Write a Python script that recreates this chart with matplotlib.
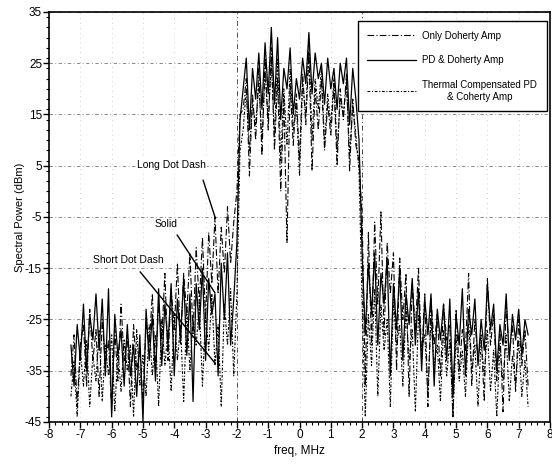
import numpy as np
import matplotlib
matplotlib.use("Agg")
import matplotlib.pyplot as plt
from matplotlib.ticker import MultipleLocator

plt.rcParams['font.family'] = ['Liberation Sans', 'DejaVu Sans']
plt.rcParams['axes.unicode_minus'] = False

# frequency grid, MHz (-7.3 ... 7.3, step 0.1)
freq = np.round(np.arange(-7.3, 7.31, 0.1), 1)

# PD & Doherty Amp (solid)
pd_left = [-30, -38, -26, -33, -22, -35, -24, -29, -20, -31, -21, -36, -19, -44, -24, -32,
           -27, -38, -26, -36, -30, -40, -28, -45, -23, -33, -24, -37, -19, -34, -22, -30,
           -18, -36, -21, -29, -17, -32, -20, -41, -18, -27, -15, -33, -17, -24, -20, -36,
           -14, -25, -12, -30, -21]
pd_band = [-10, 14,
           20, 26, 12, 24, 18, 27, 16, 29, 19, 32, 17, 30, 14, 24, 20, 28, 15, 22, 18,
           26, 21, 31, 19, 27, 22, 25, 17, 26, 20, 24, 16, 25, 21, 26, 13, 24, 18,
           10, -12]
pd_right = [-28, -14, -24, -12, -30, -16, -22, -13, -36, -18, -27, -15, -33, -20, -26, -17,
            -30, -19, -35, -21, -28, -20, -38, -23, -29, -22, -33, -21, -40, -24, -30, -19,
            -36, -23, -28, -21, -34, -25, -31, -18, -27, -22, -35, -26, -30, -20, -33, -24,
            -29, -23, -32, -25, -28]

# Only Doherty Amp (long dot dash)
doh_left = [-36, -28, -42, -30, -26, -38, -23, -33, -27, -40, -25, -34, -29, -43, -27, -37,
            -22, -33, -28, -42, -26, -35, -31, -41, -26, -30, -20, -35, -22, -29, -16, -33,
            -19, -27, -14, -30, -16, -24, -12, -28, -11, -22, -9, -25, -8, -18, -5, -20,
            -7, -16, -3, -14, -6]
doh_band = [0, 15,
            16, 22, 3, 19, 10, 24, 7, 26, 12, 28, 8, 22, 0, 18, -10, 21, 9, 19, 6,
            23, 13, 27, 4, 20, 12, 22, 8, 17, 11, 21, 5, 20, 14, 23, 4, 18, 9,
            6, -5]
doh_right = [-38, -8, -30, -6, -22, -4, -28, -10, -20, -12, -35, -13, -25, -16, -40, -18,
             -27, -15, -33, -20, -42, -21, -30, -24, -36, -22, -29, -26, -44, -23, -35, -27,
             -31, -16, -38, -25, -33, -28, -41, -17, -30, -24, -37, -27, -43, -22, -32, -26,
             -39, -25, -34, -27, -38]

# Thermal Compensated PD & Doherty Amp (short dot dash)
thm_left = [-40, -33, -44, -31, -38, -29, -42, -32, -37, -27, -41, -30, -36, -28, -43, -31,
            -39, -29, -35, -30, -44, -27, -38, -32, -40, -26, -36, -28, -42, -25, -34, -27,
            -39, -24, -33, -26, -41, -23, -35, -25, -30, -22, -38, -24, -31, -20, -34, -26,
            -42, -22, -30, -19, -36]
thm_band = [-20, 8,
            12, 20, 8, 17, 13, 21, 10, 23, 14, 25, 11, 26, 6, 20, 9, 24, 12, 17, 3,
            21, 15, 29, 10, 22, 16, 24, 9, 19, 13, 22, 8, 18, 15, 21, 7, 17, 11,
            4, -22]
thm_right = [-44, -24, -34, -19, -40, -22, -31, -25, -42, -21, -30, -26, -38, -23, -33, -27,
             -43, -24, -31, -28, -39, -25, -34, -30, -41, -27, -36, -29, -44, -28, -37, -31,
             -40, -26, -35, -30, -42, -29, -36, -27, -39, -31, -44, -30, -37, -28, -41, -32,
             -38, -29, -40, -33, -42]

only_doherty = np.array(doh_left + doh_band + doh_right)
pd_doherty = np.array(pd_left + pd_band + pd_right)
thermal_pd = np.array(thm_left + thm_band + thm_right)

labels = ['Only Doherty Amp', 'PD & Doherty Amp',
          'Thermal Compensated PD\n& Coherty Amp']

fig = plt.figure(figsize=(5.52, 4.65), dpi=100)
ax = fig.add_axes([0.0888, 0.0925, 0.9076, 0.8817])

ax.plot(freq, only_doherty, color='black', lw=0.8, ls=(0, (6, 2, 1, 2)), label=labels[0])
ax.plot(freq, pd_doherty, color='black', lw=0.9, ls='-', label=labels[1])
ax.plot(freq, thermal_pd, color='black', lw=0.8, ls=(0, (2.5, 1.5, 1, 1.5)), label=labels[2])

ax.set_xlim(-8, 8)
ax.set_ylim(-45, 35)
ax.xaxis.set_major_locator(MultipleLocator(1))
ax.xaxis.set_minor_locator(MultipleLocator(0.2))
ax.yaxis.set_minor_locator(MultipleLocator(2))
ax.set_yticks(np.arange(-45, 36, 10))
ax.tick_params(which='major', direction='out', length=4, width=1, labelsize=8.5, pad=1)
ax.tick_params(which='minor', direction='out', length=2, width=0.8)

# faint grid, band edges drawn stronger
ax.yaxis.grid(True, color='#777777', lw=0.6, ls=(0, (4, 3, 1, 3)))
ax.xaxis.grid(True, color='#aaaaaa', lw=0.5, ls=(0, (1, 6)))
for xv in (-2, 2):
    ax.axvline(xv, color='#444444', lw=0.7, ls=(0, (5, 3, 1, 3)), zorder=1)

for s in ax.spines.values():
    s.set_linewidth(1.2)

ax.set_xlabel('freq, MHz', fontsize=8.5, labelpad=3)
ax.set_ylabel('Spectral Power (dBm)', fontsize=8, labelpad=0)

ann = dict(arrowstyle='-', color='black', lw=1.0, shrinkA=0, shrinkB=0)
ax.text(-4.1, 5.2, 'Long Dot Dash', fontsize=7.5, ha='center', va='center',
        bbox=dict(boxstyle='square,pad=0.1', fc='white', ec='none'))
ax.annotate('', xy=(-2.70, -5.0), xytext=(-3.08, 2.2), arrowprops=ann)
ax.text(-4.26, -6.4, 'Solid', fontsize=7.5, ha='center', va='center')
ax.annotate('', xy=(-2.70, -19.8), xytext=(-3.91, -8.5), arrowprops=ann)
ax.text(-5.48, -13.4, 'Short Dot Dash', fontsize=7.5, ha='center', va='center')
ax.annotate('', xy=(-2.70, -33.5), xytext=(-5.09, -15.7), arrowprops=ann)

leg = ax.legend(loc='upper right', bbox_to_anchor=(0.993, 0.978), borderaxespad=0,
                fontsize=7, handlelength=5, labelspacing=1.5, fancybox=False,
                framealpha=1, edgecolor='black', borderpad=1.0, handletextpad=0.6)
leg.get_frame().set_linewidth(1.0)
leg.get_texts()[2].set_multialignment('center')

fig.savefig('out.png', dpi=100)
